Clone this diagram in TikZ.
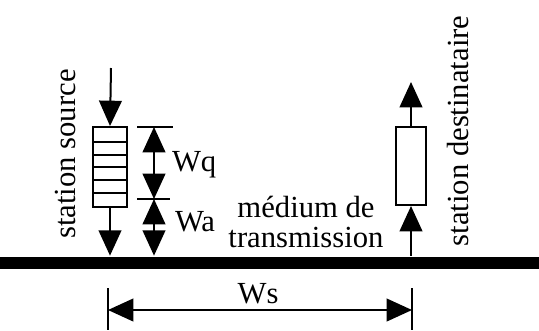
\documentclass[tikz,border=0pt]{standalone}
\usepackage{fontspec}
\setmainfont{Liberation Serif}
\usetikzlibrary{arrows.meta, positioning}

\begin{document}
\begin{tikzpicture}[x=0.75pt, y=-0.75pt, line width=1.5pt,
  >={Triangle[length=19pt, width=17pt]},
  font=\fontsize{23}{22.5}\selectfont,
  stationbox/.style={draw, fill=white, inner sep=0pt, line width=1.5pt},
  lbl/.style={inner sep=0pt}]
  \useasboundingbox (0,0) rectangle (539,330);

  % medium
  \node (bus) [fill, inner sep=0pt, minimum width=404.25pt, minimum height=9.5pt] at (269.5,263) {};

  % station source
  \coordinate (srcin) at (111,68);
  \node (srcq) [stationbox, minimum width=25.5pt, minimum height=60pt] at (110,167) {};
  \foreach \y in {142,155,167,180,193}
    \draw[line width=1.3pt] (srcq.west |- 0,\y) -- (srcq.east |- 0,\y);
  \draw[->] (srcin) -- (srcq.north);
  \draw[->] (srcq.south) -- (srcq.south |- bus.north);
  \node[lbl, rotate=90, anchor=base] (srclbl) at (75,154) {station source};

  % station destinataire
  \coordinate (dstout) at (411,82);
  \node (dst) [stationbox, minimum width=22.5pt, minimum height=58.5pt] at (411,166) {};
  \draw[->] (bus.north -| dst.south) -- (dst.south);
  \draw[->] (dst.north) -- (dstout);
  \node[lbl, rotate=90, anchor=base] (dstlbl) at (468,131) {station destinataire};

  % Wq, Wa
  \coordinate (wtop) at (154,127);
  \coordinate (wmid) at (154,199);
  \draw (137,127) -- (173,127);
  \draw (137,199) -- (170,199);
  \draw[<->] (wtop) -- (wmid);
  \draw[<->] (wmid) -- (wtop |- bus.north);
  \node[lbl, anchor=base west] (wq) at (171,171) {Wq};
  \node[lbl, anchor=base west] (wa) at (174,231) {Wa};

  \node[lbl, align=center, anchor=base] (med) at (306,247) {médium de\\transmission};

  % Ws
  \coordinate (wsl) at (108,310);
  \coordinate (wsr) at (412,310);
  \draw (108,288) -- (108,330);
  \draw (412,288) -- (412,330);
  \draw[<->] (wsl) -- (wsr);
  \node[lbl, anchor=base] (ws) at (258,303) {Ws};
\end{tikzpicture}
\end{document}
